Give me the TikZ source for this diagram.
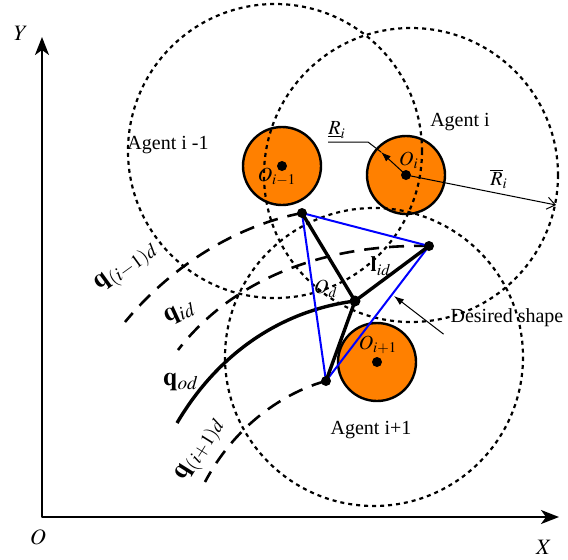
\documentclass[tikz,border=0pt]{standalone}
\usepackage{mathptmx}
\usepackage{fontspec}
\setmainfont{Liberation Serif}
\usetikzlibrary{arrows.meta}
\definecolor{agentorange}{RGB}{255,128,0}

\begin{document}
\begin{tikzpicture}[
    x=0.5pt,
    y=-0.5pt,
    line join=round,
    font=\fontsize{10}{12}\selectfont,
    axis/.style={line width=1pt,{Stealth[length=9pt,width=7pt,inset=2.5pt]}-{Stealth[length=9pt,width=7pt,inset=2.5pt]}},
    zone/.style={line width=1.1pt,dash pattern=on 2pt off 2pt},
    track/.style={line width=1.3pt,dash pattern=on 7.5pt off 5pt},
    body/.style={draw,line width=1.2pt,fill=agentorange},
    link/.style={line width=1.7pt},
    formation/.style={blue,line width=1pt},
    leader/.style={line width=0.5pt},
    qlabel/.style={font=\fontsize{13}{15}\selectfont},
    axlabel/.style={font=\fontsize{11}{13}\selectfont}
]
\useasboundingbox (0,0) rectangle (568,559);

% -------------------------------------------------
% Оси
% -------------------------------------------------

\coordinate (Ytip) at (42,37);
\coordinate (Xtip) at (559,517);
\draw[axis] (Ytip) |- (Xtip);

\node[axlabel] (ylab) at (21,33)  {$Y$};
\node[axlabel] (olab) at (38,537) {$O$};
\node[axlabel] (xlab) at (544,547) {$X$};

% -------------------------------------------------
% Агенты
% -------------------------------------------------

\coordinate (Oprev) at (282,166);
\coordinate (Oi)    at (406,175);
\coordinate (Onext) at (377,362);

\draw[body] (Oprev) circle (39);
\draw[body] (Oi)    circle (39);
\draw[body] (Onext) circle (39);

% зоны
\draw[zone] (275,151) circle (147);
\draw[zone] (411,175) circle (147);
\draw[zone] (374,357) circle (149);

% -------------------------------------------------
% Желаемая форма
% -------------------------------------------------

\coordinate (P1) at (302,213);
\coordinate (P2) at (429,246);
\coordinate (P3) at (326,381);
\coordinate (Od) at (355,301);

\draw[track] (P1) .. controls (240,225) and (175,262) .. (125,322);
\draw[track] (P2) .. controls (340,244) and (240,270) .. (178,350);
\draw[track] (P3) .. controls (285,392) and (235,425) .. (205,482);

\draw[link] (177,423) .. controls (220,350) and (285,310) .. (Od);

\draw[formation] (P1) -- (P2) -- (P3) -- cycle;

\draw[link] (Od) -- (P1);
\draw[link] (Od) -- (P2);
\draw[link] (Od) -- (P3);

\fill (P1) circle (5);
\fill (P2) circle (5);
\fill (P3) circle (5);
\fill (Od) circle (5.5);

\fill (Oprev) circle (5);
\fill (Oi)    circle (5);
\fill (Onext) circle (5);

% -------------------------------------------------
% Радиусы
% -------------------------------------------------

\coordinate (Rtip)    at (381,152);
\coordinate (Rbarend) at (556,205);
\draw[leader,-{Latex[length=5pt,width=3.5pt]}] (Oi) -- (Rtip);
\draw[leader] (Rtip) -- (368,142) -- (328,142);
\draw[leader,-{Straight Barb[length=4pt,width=6pt]}] (Oi) -- (Rbarend);

\node (rlow)  at (337,130) {$\underline{R}_i$};
\node (rhigh) at (499,179) {$\overline{R}_i$};

% -------------------------------------------------
% Подписи
% -------------------------------------------------

\node (aprev) at (168,145) {Agent i -1};
\node (acur)  at (460,122) {Agent i};
\node (anext) at (371,430) {Agent i+1};

\node (lprev) at (277,177) {$O_{i-1}$};
\node (lcur)  at (409,160) {$O_{i}$};
\node (lnext) at (378,345) {$O_{i+1}$};
\node (lod)   at (326,289) {$O_{d}$};
\node[font=\fontsize{11}{13}\selectfont] (lid) at (381,266) {$\mathbf{l}_{id}$};

\node[qlabel,rotate=36] (qprev) at (127,268) {$\mathbf{q}_{(i-1)d}$};
\node[qlabel,rotate=25] (qcur)  at (180,313) {$\mathbf{q}_{id}$};
\node[qlabel]           (qod)   at (181,382) {$\mathbf{q}_{od}$};
\node[qlabel,rotate=58] (qnext) at (201,450) {$\mathbf{q}_{(i+1)d}$};

\node (dlab) at (507,318) {Desired shape};
\coordinate (tipD) at (394,296);
\draw[leader,-{Latex[length=5pt,width=3.5pt]}] (dlab.south west) -- (tipD);

\end{tikzpicture}
\end{document}
